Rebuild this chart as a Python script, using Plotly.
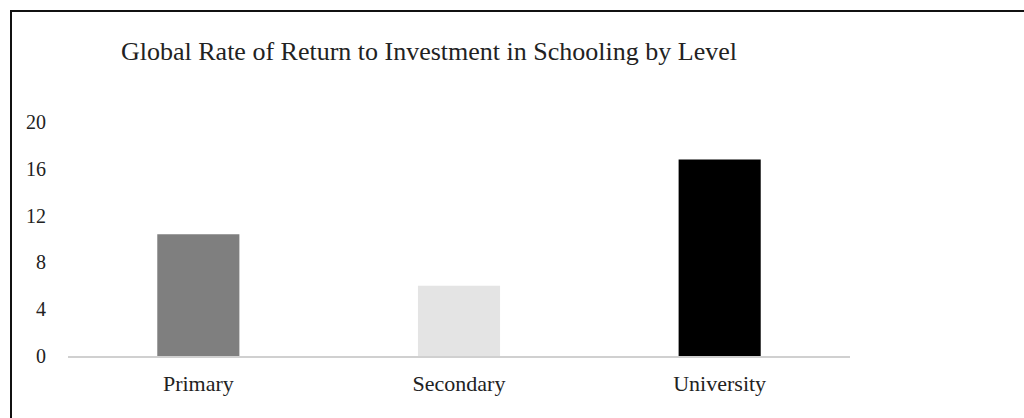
import plotly.graph_objects as go

categories = ["Primary", "Secondary", "University"]
values = [10.4, 6.0, 16.8]
bar_colors = ["#7f7f7f", "#e4e4e4", "#000000"]
y_ticks = [0, 4, 8, 12, 16, 20]
title_text = "Global Rate of Return to Investment in Schooling by Level"

W, H = 1024, 418
ml, mr, mt, mb = 68, 174, 122, 62

fig = go.Figure(go.Bar(
    x=categories, y=values, marker=dict(color=bar_colors, line=dict(width=0)),
    width=0.315,
))

font = dict(family="Liberation Serif, Times New Roman, serif", color="#222222")

fig.update_layout(
    width=W, height=H,
    margin=dict(l=ml, r=mr, t=mt, b=mb, pad=0),
    paper_bgcolor="white", plot_bgcolor="white",
    showlegend=False,
    font=dict(**font, size=20),
    xaxis=dict(
        showgrid=False, showline=True, linecolor="#d0d0d0", linewidth=1.5,
        ticks="", tickfont=dict(size=22), ticklabelstandoff=7,
        range=[-0.5, 2.5],
    ),
    yaxis=dict(
        range=[0, 20], tickvals=y_ticks, showgrid=False, showline=False,
        zeroline=False, ticks="", tickfont=dict(size=20), ticklabelstandoff=21,
    ),
    annotations=[dict(
        text=title_text, xref="paper", yref="paper",
        x=(119 - ml) / (W - ml - mr), y=1 + (mt - 52) / (H - mt - mb),
        xanchor="left", yanchor="middle", showarrow=False,
        font=dict(**font, size=26),
    )],
    shapes=[dict(
        type="rect", xref="paper", yref="paper",
        x0=(11 - ml) / (W - ml - mr), x1=(W + 20 - ml) / (W - ml - mr),
        y0=-(H + 20 - (H - mb)) / (H - mt - mb), y1=1 + (mt - 11) / (H - mt - mb),
        line=dict(color="#111111", width=2), layer="above",
    )],
)

fig.write_html("out.html")
